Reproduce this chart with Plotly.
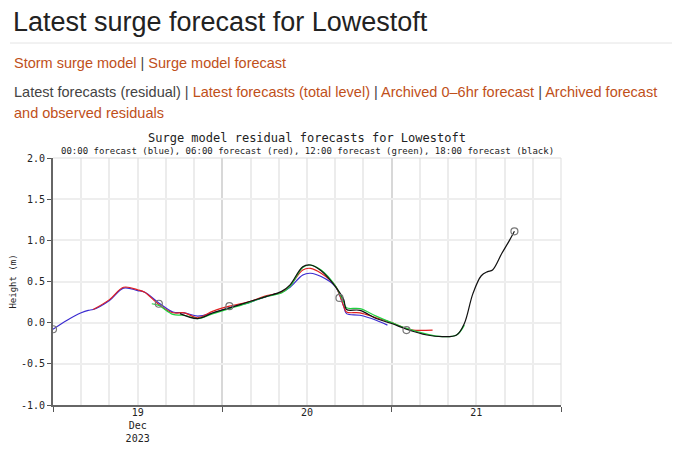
import plotly.graph_objects as go

# hours from 18 Dec 2023 00:00
blue_h = [12,14,16,17,17.7,20,22,24,25,27,29,30.6,32.5,34.7,37,40,42.3,44.4,45.6,47.4,48.5,50,52,53.2,53.6,55.5,57.8,59.4]
blue_v = [-0.08,0.03,0.12,0.15,0.16,0.27,0.42,0.39,0.37,0.24,0.13,0.12,0.08,0.12,0.18,0.25,0.32,0.37,0.43,0.58,0.60,0.56,0.44,0.2,0.11,0.09,0.03,-0.03]
red_h = [17.7,20,22,24,25,27,29,30.6,32.5,34.7,37,40,42.3,44.4,45.6,47.4,48.5,50,52,53.2,53.6,55.5,57.8,60,62,63,65.8]
red_v = [0.16,0.28,0.43,0.40,0.37,0.22,0.12,0.12,0.06,0.14,0.2,0.26,0.33,0.37,0.45,0.64,0.66,0.6,0.45,0.2,0.13,0.12,0.06,0.0,-0.07,-0.09,-0.09]
green_h = [26,27,29,30.6,32.5,34.7,37,40,42.3,44.4,45.6,47.4,48.5,50,52,53.2,53.6,55.5,57.8,60,62.1,65,67.2,69.2,70.3]
green_v = [0.23,0.21,0.10,0.09,0.05,0.11,0.17,0.25,0.32,0.36,0.44,0.67,0.70,0.64,0.45,0.25,0.18,0.17,0.08,0.0,-0.07,-0.14,-0.17,-0.15,-0.03]
black_h = [30,32.5,34.7,37,40,42.3,44.4,45.6,47.4,48.5,50,52,53.2,53.6,55.5,57.8,60,62.1,65,67.2,69.2,70.3,71.5,72.7,73.6,74.3,75.6,76.7,77.4]
black_v = [0.11,0.05,0.12,0.18,0.26,0.32,0.38,0.46,0.68,0.70,0.63,0.44,0.28,0.16,0.15,0.05,-0.01,-0.08,-0.15,-0.17,-0.15,-0.01,0.35,0.57,0.62,0.64,0.84,1.0,1.11]
circle_h = [12,27,37,52.6,62.1,77.4]
circle_v = [-0.08,0.23,0.2,0.3,-0.09,1.11]

day_vals = [24,48,72]
day_labels = ["19<br>Dec<br>2023","20","21"]
y_vals = [-1,-0.5,0,0.5,1,1.5,2]
y_labels = ["-1.0","-0.5","0.0","0.5","1.0","1.5","2.0"]

fig = go.Figure()
for h, v, c in [(blue_h, blue_v, "#3a2bd0"), (red_h, red_v, "#e02020"),
                (green_h, green_v, "#20d040"), (black_h, black_v, "#111111")]:
    fig.add_trace(go.Scatter(x=h, y=v, mode="lines", line=dict(color=c, width=1.2, shape="spline"), showlegend=False))
fig.add_trace(go.Scatter(x=circle_h, y=circle_v, mode="markers",
                         marker=dict(symbol="circle-open", size=7, color="#777", line=dict(width=1.2)), showlegend=False))
fig.add_trace(go.Scatter(x=[12,84], y=[None,None], xaxis="x2", showlegend=False))

mono = "DejaVu Sans Mono"
OX, OY = 8, 8
W, H = 672, 443
L, R, T, B = 53 - OX, 561 - OX, 158 - OY, 405 - OY
def px(x): return (x - OX - L) / (R - L)
def py(y): return (B - (y - OY)) / (B - T)

fig.update_layout(
    width=W, height=H, paper_bgcolor="white", plot_bgcolor="white",
    margin=dict(l=L, r=W-R, t=T, b=H-B, autoexpand=False),
    xaxis=dict(range=[12,84], tickvals=[12,36,60,84], ticktext=["","","",""], ticks="outside", ticklen=5,
               tickcolor="#555", showgrid=True, gridcolor="#d8d8d8", gridwidth=1.5, automargin=False,
               showline=True, linecolor="#666", linewidth=2, zeroline=False,
               minor=dict(tick0=12, dtick=4, showgrid=True, gridcolor="#ececec", ticks="")),
    xaxis2=dict(range=[12,84], overlaying="x", side="bottom", tickvals=day_vals, ticktext=day_labels,
                showgrid=False, showline=False, zeroline=False, ticks="", automargin=False,
                tickfont=dict(family=mono, size=10, color="#222")),
    yaxis=dict(range=[-1,2], tickvals=y_vals, ticktext=y_labels, ticks="outside", ticklen=4, tickcolor="#555",
               showgrid=True, gridcolor="#eeeeee", gridwidth=1.5, showline=True, linecolor="#666", linewidth=2,
               zeroline=False, automargin=False, tickfont=dict(family=mono, size=10, color="#222"),
               title=dict(text="Height (m)", font=dict(family=mono, size=9, color="#222"), standoff=4)),
    shapes=[dict(type="line", xref="paper", x0=0, x1=1, yref="y", y0=yv, y1=yv, layer="below",
                 line=dict(color="#d8d8d8", width=1.5)) for yv in [0, 1]] +
           [dict(type="line", xref="paper", x0=0, x1=1, yref="paper", y0=1, y1=1, line=dict(color="#ddd", width=1)),
            dict(type="line", xref="paper", x0=1, x1=1, yref="paper", y0=0, y1=1, line=dict(color="#ddd", width=1)),
            dict(type="line", xref="paper", x0=px(10), x1=px(672), yref="paper", y0=py(43), y1=py(43),
                 line=dict(color="#e4e4e4", width=1))],
)
link = "#c0501a"
ann = [
    (11, 22, "Latest surge forecast for Lowestoft", 27, "#222", "Liberation Sans", "left"),
    (12, 63, f"<span style='color:{link}'>Storm surge model</span> | <span style='color:{link}'>Surge model forecast</span>", 14.5, "#444", "Liberation Sans", "left"),
    (12, 92, f"Latest forecasts (residual) | <span style='color:{link}'>Latest forecasts (total level)</span> | <span style='color:{link}'>Archived 0–6hr forecast</span> | <span style='color:{link}'>Archived forecast</span>", 14.5, "#444", "Liberation Sans", "left"),
    (12, 113, "and observed residuals", 14.5, link, "Liberation Sans", "left"),
    (307, 138, "Surge model residual forecasts for Lowestoft", 12, "#222", mono, "center"),
    (307, 151, "00:00 forecast (blue), 06:00 forecast (red), 12:00 forecast (green), 18:00 forecast (black)", 9, "#222", mono, "center"),
]
for x, y, t, s, c, f, a in ann:
    fig.add_annotation(xref="paper", yref="paper", x=px(x), y=py(y), text=t, showarrow=False,
                       xanchor=a, yanchor="middle", font=dict(size=s, color=c, family=f))
fig.write_html("out.html")
